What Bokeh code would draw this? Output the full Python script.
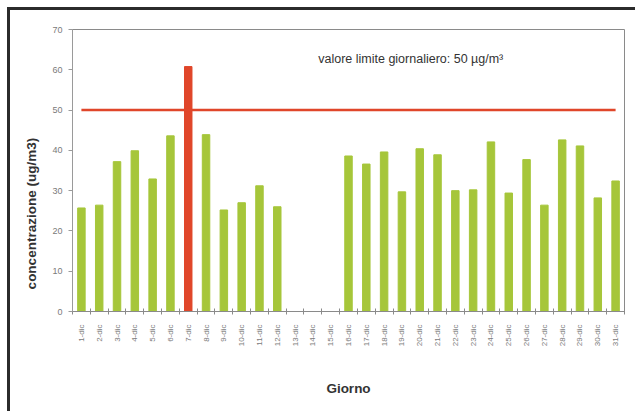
import numpy as np
from math import pi
from bokeh.plotting import figure
from bokeh.models import Range1d, FixedTicker, Label, ColumnDataSource
from bokeh.embed import file_html
from bokeh.resources import INLINE

days = [f"{d}-dic" for d in range(1, 32)]
values = [25.7, 26.4, 37.2, 39.9, 32.9, 43.6, 60.8, 43.9, 25.2, 27.0, 31.2, 26.0,
          None, None, None,
          38.6, 36.6, 39.6, 29.7, 40.4, 38.9, 30.0, 30.2, 42.1, 29.4, 37.7, 26.4,
          42.6, 41.1, 28.2, 32.4]
limit = 50
y_ticks = [0, 10, 20, 30, 40, 50, 60, 70]

GREEN = "#a6c63a"
RED = "#e0462a"

xs = np.arange(len(days)) + 0.5
colors = [RED if (v is not None and v > limit) else GREEN for v in values]
keep = [i for i, v in enumerate(values) if v is not None]
src = ColumnDataSource(dict(x=[xs[i] for i in keep], top=[values[i] for i in keep],
                            color=[colors[i] for i in keep]))

p = figure(frame_width=552, frame_height=282, output_backend="svg", toolbar_location=None,
           x_range=Range1d(0, len(days)), y_range=Range1d(0, 70),
           min_border_left=62, min_border_top=19, min_border_right=11, min_border_bottom=100)
p.styles = {"border-top": "3px solid #2b2b2b", "border-left": "3px solid #2b2b2b",
            "margin-left": "7px", "margin-top": "7px"}
p.background_fill_color = "white"
p.border_fill_color = "white"
p.outline_line_color = "#8a8a8a"
p.outline_line_width = 1
p.xgrid.visible = False
p.ygrid.visible = False

p.vbar(x="x", top="top", width=0.42, color="color", source=src)
p.line(x=[xs[0], xs[-1]], y=[limit, limit], line_color=RED, line_width=2.5)

# y axis
p.yaxis.ticker = FixedTicker(ticks=y_ticks)
p.yaxis.axis_line_color = "#9a9a9a"
p.yaxis.major_tick_line_color = "#9a9a9a"
p.yaxis.major_tick_out = 4
p.yaxis.major_tick_in = 0
p.yaxis.minor_tick_line_color = None
p.yaxis.major_label_text_font = "Liberation Sans"
p.yaxis.major_label_text_font_size = "9px"
p.yaxis.major_label_text_color = "#7a7a7a"
p.yaxis.major_label_standoff = 6
# trailing non-breaking spaces shift the visible title down, as in the original
p.yaxis.axis_label = "concentrazione (ug/m3)" + "\u00a0" * 23
p.yaxis.axis_label_text_font = "Liberation Sans"
p.yaxis.axis_label_text_font_size = "13.5px"
p.yaxis.axis_label_text_font_style = "bold"
p.yaxis.axis_label_text_color = "#333333"
p.yaxis.axis_label_standoff = 10

# x axis: labels at centers, ticks at boundaries
p.xaxis.ticker = FixedTicker(ticks=list(xs), minor_ticks=list(range(len(days) + 1)))
p.xaxis.major_label_overrides = {float(x): d for x, d in zip(xs, days)}
p.xaxis.major_label_orientation = pi / 2
p.xaxis.major_tick_line_color = None
p.xaxis.minor_tick_line_color = "#8a8a8a"
p.xaxis.minor_tick_in = 3
p.xaxis.minor_tick_out = 3
p.xaxis.axis_line_color = "#8a8a8a"
p.xaxis.major_label_text_font = "Liberation Sans"
p.xaxis.major_label_text_font_size = "8px"
p.xaxis.major_label_text_color = "#7a7a7a"
p.xaxis.major_label_standoff = 7
p.xaxis.axis_label = "Giorno"
p.xaxis.axis_label_text_font = "Liberation Sans"
p.xaxis.axis_label_text_font_size = "13.5px"
p.xaxis.axis_label_text_font_style = "bold"
p.xaxis.axis_label_text_color = "#333333"
p.xaxis.axis_label_standoff = 32

p.add_layout(Label(x=13.8, y=62.6, text="valore limite giornaliero: 50 \u00b5g/m\u00b3",
                   text_align="left", text_baseline="middle",
                   text_font="Liberation Sans", text_font_size="12.5px",
                   text_color="#333333"))

open("out.html", "w").write(file_html(p, INLINE))
